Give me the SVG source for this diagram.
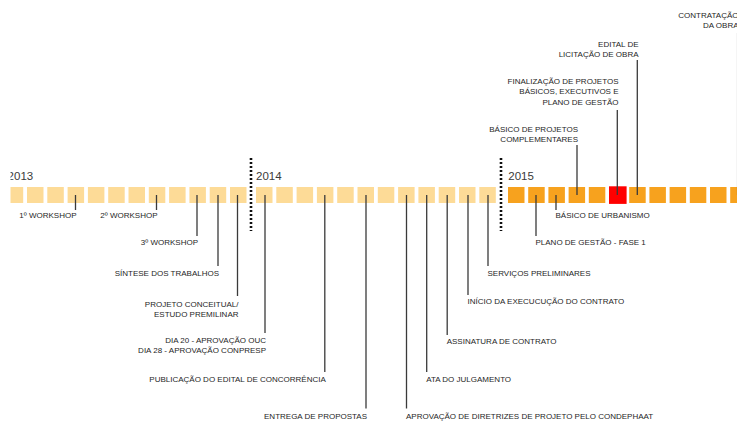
<svg xmlns="http://www.w3.org/2000/svg" width="737" height="423" viewBox="0 0 737 423">
<style>
.m13{fill:#FDDB97}
.m14{fill:#FDDB97}
.m15{fill:#F7A21E}
.red{fill:#FF0000}
.yr{font-family:"Liberation Sans",Arial,sans-serif;font-size:11.5px;fill:#3a3a3a}
.lb{font-family:"Liberation Sans",Arial,sans-serif;font-size:8px;fill:#262626}
.e{text-anchor:end}
.c line{stroke:#3a3a3a;stroke-width:1.3}
.dot{stroke:#111;stroke-width:2.6;stroke-dasharray:2 2}
</style>
<defs>
<clipPath id="clipL"><rect x="10.5" y="0" width="727" height="423"/></clipPath>
</defs>
<rect width="737" height="423" fill="#fff"/>
<g id="timeline">
<g id="y2013" clip-path="url(#clipL)">
<text class="yr" x="7.6" y="179.8">2013</text>
<rect class="m13" x="6.7" y="187" width="16.5" height="16"/>
<rect class="m13" x="27" y="187" width="16.5" height="16"/>
<rect class="m13" x="47.3" y="187" width="16.5" height="16"/>
<rect class="m13" x="67.6" y="187" width="16.5" height="16"/>
<rect class="m13" x="87.9" y="187" width="16.5" height="16"/>
<rect class="m13" x="108.2" y="187" width="16.5" height="16"/>
<rect class="m13" x="128.5" y="187" width="16.5" height="16"/>
<rect class="m13" x="148.8" y="187" width="16.5" height="16"/>
<rect class="m13" x="169.1" y="187" width="16.5" height="16"/>
<rect class="m13" x="189.4" y="187" width="16.5" height="16"/>
<rect class="m13" x="209.7" y="187" width="16.5" height="16"/>
<rect class="m13" x="230" y="187" width="16.5" height="16"/>
</g>
<g id="y2014">
<line class="dot" x1="251" y1="158" x2="251" y2="231"/>
<text class="yr" x="256" y="179.6">2014</text>
<rect class="m14" x="256" y="187" width="16.5" height="16"/>
<rect class="m14" x="276.3" y="187" width="16.5" height="16"/>
<rect class="m14" x="296.6" y="187" width="16.5" height="16"/>
<rect class="m14" x="316.9" y="187" width="16.5" height="16"/>
<rect class="m14" x="337.2" y="187" width="16.5" height="16"/>
<rect class="m14" x="357.5" y="187" width="16.5" height="16"/>
<rect class="m14" x="377.8" y="187" width="16.5" height="16"/>
<rect class="m14" x="398.1" y="187" width="16.5" height="16"/>
<rect class="m14" x="418.4" y="187" width="16.5" height="16"/>
<rect class="m14" x="438.7" y="187" width="16.5" height="16"/>
<rect class="m14" x="459" y="187" width="16.5" height="16"/>
<rect class="m14" x="479.3" y="187" width="16.5" height="16"/>
</g>
<g id="y2015">
<line class="dot" x1="501" y1="158" x2="501" y2="231"/>
<text class="yr" x="508.3" y="180">2015</text>
<rect class="m15" x="508" y="187" width="16.5" height="16"/>
<rect class="m15" x="528.2" y="187" width="16.5" height="16"/>
<rect class="m15" x="548.4" y="187" width="16.5" height="16"/>
<rect class="m15" x="568.6" y="187" width="16.5" height="16"/>
<rect class="m15" x="588.8" y="187" width="16.5" height="16"/>
<rect class="red" x="609" y="186.3" width="17.6" height="17.6"/>
<rect class="m15" x="629.2" y="187" width="16.5" height="16"/>
<rect class="m15" x="649.4" y="187" width="16.5" height="16"/>
<rect class="m15" x="669.6" y="187" width="16.5" height="16"/>
<rect class="m15" x="689.8" y="187" width="16.5" height="16"/>
<rect class="m15" x="710" y="187" width="16.5" height="16"/>
<rect class="m15" x="730.2" y="187" width="16.5" height="16"/>
</g>
</g>
<g id="connectors" class="c">
<line x1="75.5" y1="195" x2="75.5" y2="210"/>
<line x1="156.5" y1="195" x2="156.5" y2="210"/>
<line x1="197" y1="195" x2="197" y2="236"/>
<line x1="218" y1="195" x2="218" y2="266"/>
<line x1="237.5" y1="195" x2="237.5" y2="296"/>
<line x1="265" y1="195" x2="265" y2="333"/>
<line x1="324.8" y1="195" x2="324.8" y2="372"/>
<line x1="366" y1="195" x2="366" y2="408.5"/>
<line x1="406.5" y1="195" x2="406.5" y2="408.5"/>
<line x1="426.7" y1="195" x2="426.7" y2="372"/>
<line x1="447.2" y1="195" x2="447.2" y2="335"/>
<line x1="468" y1="195" x2="468" y2="295"/>
<line x1="488" y1="195" x2="488" y2="266"/>
<line x1="536" y1="195" x2="536" y2="236"/>
<line x1="556" y1="195" x2="556" y2="210"/>
<line x1="577" y1="145" x2="577" y2="195"/>
<line x1="617.3" y1="110" x2="617.3" y2="195"/>
<line x1="637.3" y1="60" x2="637.3" y2="195"/>
<line x1="737.6" y1="33" x2="737.6" y2="195"/>
</g>
<g id="n-workshop1"><text class="lb e" x="76.5" y="218">1º WORKSHOP</text></g>
<g id="n-workshop2"><text class="lb e" x="157.5" y="218">2º WORKSHOP</text></g>
<g id="n-workshop3"><text class="lb e" x="198" y="245">3º WORKSHOP</text></g>
<g id="n-sintese"><text class="lb e" x="219" y="276">SÍNTESE DOS TRABALHOS</text></g>
<g id="n-projeto-conceitual"><text class="lb e" x="238.5" y="306.5">PROJETO CONCEITUAL/</text><text class="lb e" x="238.5" y="316.7">ESTUDO PREMILINAR</text></g>
<g id="n-aprovacao-ouc"><text class="lb e" x="266" y="342.5">DIA 20 - APROVAÇÃO OUC</text><text class="lb e" x="266" y="353">DIA 28 - APROVAÇÃO CONPRESP</text></g>
<g id="n-publicacao"><text class="lb e" x="325.8" y="382">PUBLICAÇÃO DO EDITAL DE CONCORRÊNCIA</text></g>
<g id="n-entrega"><text class="lb e" x="367" y="419">ENTREGA DE PROPOSTAS</text></g>
<g id="n-condephaat"><text class="lb" x="406" y="419">APROVAÇÃO DE DIRETRIZES DE PROJETO PELO CONDEPHAAT</text></g>
<g id="n-ata"><text class="lb" x="426.2" y="382">ATA DO JULGAMENTO</text></g>
<g id="n-assinatura"><text class="lb" x="446.7" y="344.3">ASSINATURA DE CONTRATO</text></g>
<g id="n-inicio"><text class="lb" x="467.5" y="304">INÍCIO DA EXECUCUÇÃO DO CONTRATO</text></g>
<g id="n-servicos"><text class="lb" x="487.5" y="276">SERVIÇOS PRELIMINARES</text></g>
<g id="n-plano-gestao"><text class="lb" x="535.5" y="245">PLANO DE GESTÃO - FASE 1</text></g>
<g id="n-urbanismo"><text class="lb" x="555.5" y="218">BÁSICO DE URBANISMO</text></g>
<g id="n-complementares"><text class="lb e" x="578" y="131.5">BÁSICO DE PROJETOS</text><text class="lb e" x="578" y="141.8">COMPLEMENTARES</text></g>
<g id="n-finalizacao"><text class="lb e" x="618.5" y="84">FINALIZAÇÃO DE PROJETOS</text><text class="lb e" x="618.5" y="94.3">BÁSICOS, EXECUTIVOS E</text><text class="lb e" x="618.5" y="104.6">PLANO DE GESTÃO</text></g>
<g id="n-edital"><text class="lb e" x="638.5" y="46.8">EDITAL DE</text><text class="lb e" x="638.5" y="57.3">LICITAÇÃO DE OBRA</text></g>
<g id="n-contratacao"><text class="lb e" x="738.5" y="17.5">CONTRATAÇÃO</text><text class="lb e" x="738.5" y="27.8">DA OBRA</text></g>
</svg>
